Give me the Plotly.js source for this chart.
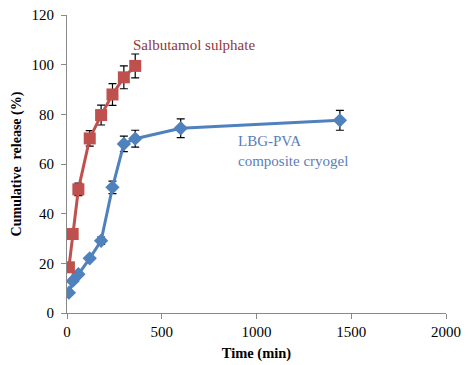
<!DOCTYPE html>
<html>
<head>
<meta charset="utf-8">
<script src="https://cdn.plot.ly/plotly-3.0.1.min.js"></script>
<style>html,body{margin:0;padding:0;background:#fff;}#chart{width:469px;height:365px;}</style>
</head>
<body>
<div id="chart"></div>
<script>
const salbTime = [10, 30, 60, 120, 180, 240, 300, 360];
const salbRelease = [18.4, 31.8, 49.8, 70.3, 79.7, 88.0, 94.9, 99.5];
const salbErr = [0.8, 0.8, 2.5, 3.1, 4.0, 4.4, 4.6, 4.8];

const lbgTime = [10, 30, 60, 120, 180, 240, 300, 360, 600, 1440];
const lbgRelease = [8.2, 12.9, 15.6, 22.0, 29.1, 50.6, 68.1, 70.2, 74.4, 77.6];
const lbgErr = [0.5, 0.5, 0.8, 0.8, 1.5, 2.5, 3.1, 3.4, 3.8, 4.0];

const serif = "'Liberation Serif'";

const traces = [
  {
    x: lbgTime, y: lbgRelease, type: 'scatter', mode: 'lines+markers',
    line: {color: '#4F81BD', width: 3},
    marker: {symbol: 'diamond', size: 11, color: '#4F81BD'},
    error_y: {type: 'data', array: lbgErr, visible: true, color: '#000', thickness: 1.2, width: 4},
    showlegend: false
  },
  {
    x: salbTime, y: salbRelease, type: 'scatter', mode: 'lines+markers',
    line: {color: '#C0504D', width: 3},
    marker: {symbol: 'square', size: 12, color: '#C0504D'},
    error_y: {type: 'data', array: salbErr, visible: true, color: '#000', thickness: 1.2, width: 4},
    showlegend: false
  }
];

const layout = {
  width: 469, height: 365,
  margin: {l: 67, r: 23, t: 15, b: 52},
  paper_bgcolor: '#fff', plot_bgcolor: '#fff',
  font: {family: serif, color: '#000', size: 15},
  xaxis: {
    range: [0, 2000], tickvals: [0, 500, 1000, 1500, 2000],
    showgrid: false, zeroline: false, showline: true, linecolor: '#888', linewidth: 1,
    ticks: 'outside', ticklen: 5, tickcolor: '#888',
    tickfont: {family: serif, size: 15, color: '#000'},
    title: {text: '<b>Time (min)</b>', font: {family: serif, size: 14.5, color: '#000'}, standoff: 8}
  },
  yaxis: {
    range: [0, 120], tickvals: [0, 20, 40, 60, 80, 100, 120],
    showgrid: false, zeroline: false, showline: true, linecolor: '#888', linewidth: 1,
    ticks: 'outside', ticklen: 5, tickcolor: '#888', ticklabelstandoff: 4,
    tickfont: {family: serif, size: 15, color: '#000'},
    title: {text: '<b>Cumulative  release (%)</b>', font: {family: serif, size: 14, color: '#000'}, standoff: 6}
  },
  annotations: [
    {x: 338, y: 108, xref: 'x', yref: 'y', text: 'Salbutamol sulphate', showarrow: false,
     xanchor: 'left', yanchor: 'middle', font: {family: serif, size: 15, color: '#953735'}},
    {x: 890, y: 65.2, xref: 'x', yref: 'y', text: 'LBG-PVA<br>composite cryogel', showarrow: false,
     xanchor: 'left', yanchor: 'middle', align: 'left', font: {family: serif, size: 15, color: '#5B7EBA'}}
  ]
};

Plotly.newPlot('chart', traces, layout, {displayModeBar: false, staticPlot: true});
</script>
</body>
</html>
